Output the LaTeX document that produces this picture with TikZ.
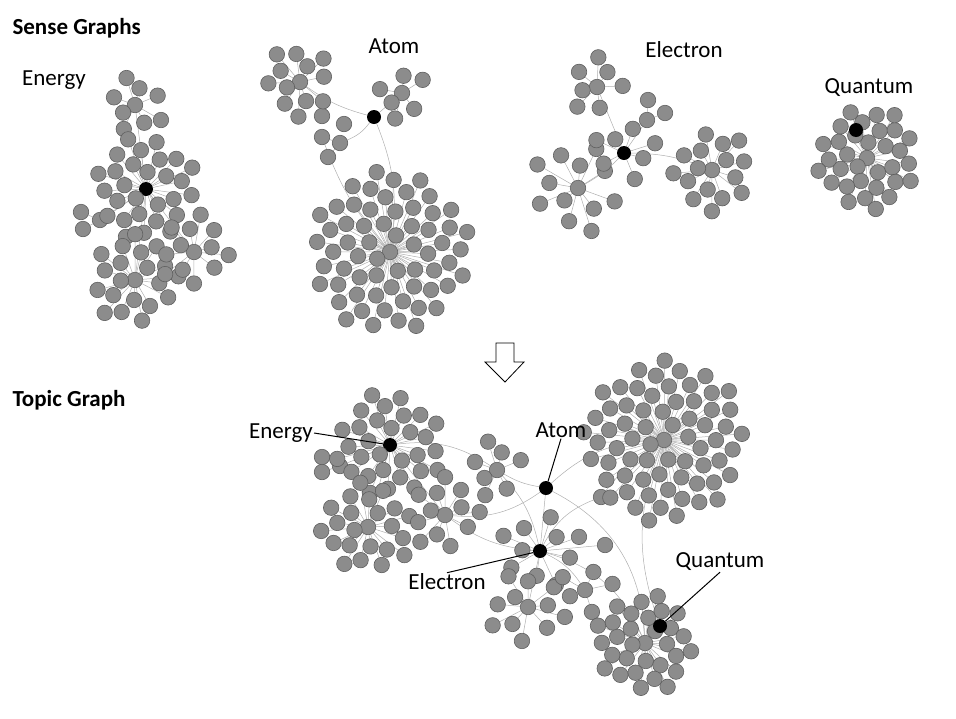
\documentclass[tikz,border=0pt]{standalone}
\usepackage{fontspec}
\setmainfont{Carlito}
\usepackage{tikz}
\usetikzlibrary{calc}
\pgfdeclarelayer{bg}
\pgfsetlayers{bg,main}
\definecolor{leafgray}{RGB}{140,140,140}
\definecolor{rimgray}{RGB}{95,95,95}
\definecolor{linkgray}{RGB}{175,175,175}
% ring of leaves round a named centre: name, count, spacing, turn
\newcommand{\petals}[4]{%
  \foreach \k in {1,...,#2}{%
    \pgfmathsetmacro{\rr}{#3*sqrt(\k+1)}%
    \pgfmathsetmacro{\aa}{#4+137.508*\k}%
    \node[leaf] (#1-\k) at ($(#1)+(\aa:\rr)$) {};
  }%
  \begin{pgfonlayer}{bg}
    \foreach \k in {1,...,#2}{\draw[link] (#1) -- (#1-\k);}
  \end{pgfonlayer}}

\begin{document}
\begin{tikzpicture}[x=1pt,y=-1pt]
  \tikzset{leaf/.style={circle,draw=rimgray,fill=leafgray,line width=0.6pt,inner sep=0pt,minimum size=15.5pt}}
  \tikzset{hub/.style={circle,fill=black,inner sep=0pt,minimum size=14pt}}
  \tikzset{link/.style={draw=linkgray,line width=0.5pt}}
  \tikzset{title/.style={anchor=west,font=\fontsize{23}{26}\selectfont\bfseries}}
  \tikzset{word/.style={font=\fontsize{23}{26}\selectfont,inner sep=1pt}}
  \tikzset{pointer/.style={draw=black,line width=1pt}}
  \useasboundingbox (0,0) rectangle (956,718);
  \node[title] (senseTitle) at (9,28) {Sense Graphs};
  \node[title] (topicTitle) at (9,400) {Topic Graph};
  \node[word] (wEnergy) at (54,80) {Energy};
  \node[word] (wAtom) at (394,46) {Atom};
  \node[word] (wElectron) at (684,50) {Electron};
  \node[word] (wQuantum) at (869,88) {Quantum};

  \node[hub] (eHub) at (146,189) {};
  \node[leaf] (eTop) at (135,105) {};
  \node[leaf] (eLow) at (135,280) {};
  \node[leaf] (eRight) at (194,252) {};
  \node[leaf] (eSide) at (100,220) {};
  \node[leaf] (eSide1) at (81,212) {};
  \node[leaf] (eSide2) at (83,229) {};
  \petals{eTop}{8}{10}{10}
  \petals{eHub}{28}{9.8}{0}
  \petals{eLow}{20}{10}{40}
  \petals{eRight}{12}{10.5}{70}
  \begin{pgfonlayer}{bg}
    \draw[link] (eHub) -- (eTop);
    \draw[link] (eHub) -- (eLow);
    \draw[link] (eHub) -- (eRight);
    \draw[link] (eHub) -- (eSide);
    \draw[link] (eSide) -- (eSide1);
    \draw[link] (eSide) -- (eSide2);
  \end{pgfonlayer}

  \node[hub] (aHub) at (374,117) {};
  \node[leaf] (aLeft) at (300,82) {};
  \node[leaf] (aRight) at (402,93) {};
  \node[leaf] (aBig) at (390,252) {};
  \node[leaf] (aMid) at (340,143) {};
  \node[leaf] (aMid1) at (322,137) {};
  \node[leaf] (aMid2) at (328,157) {};
  \node[leaf] (aMid3) at (344,124) {};
  \node[leaf] (aMid4) at (322,116) {};
  \petals{aLeft}{12}{10}{20}
  \petals{aRight}{6}{10}{0}
  \petals{aBig}{62}{10.2}{15}
  \begin{pgfonlayer}{bg}
    \draw[link] (aHub) to[bend left=10] (aLeft);
    \draw[link] (aHub) -- (aRight);
    \draw[link] (aHub) to[bend left=15] (aMid);
    \draw[link] (aMid) -- (aMid1);
    \draw[link] (aMid) -- (aMid2);
    \draw[link] (aMid1) to[bend right=10] (aBig);
    \draw[link] (aHub) to[bend left=15] (aBig);
  \end{pgfonlayer}

  \node[hub] (lHub) at (624,153) {};
  \node[leaf] (lTop) at (597,87) {};
  \node[leaf] (lRight) at (712,170) {};
  \node[leaf] (lLeft) at (578,188) {};
  \node[leaf] (lUp) at (647,120) {};
  \node[leaf] (lUp1) at (648,100) {};
  \node[leaf] (lUp2) at (665,113) {};
  \petals{lTop}{7}{10.5}{30}
  \petals{lRight}{16}{10}{50}
  \petals{lLeft}{12}{13}{0}
  \petals{lHub}{7}{11.5}{100}
  \begin{pgfonlayer}{bg}
    \draw[link] (lHub) -- (lTop);
    \draw[link] (lHub) to[bend left=10] (lRight);
    \draw[link] (lHub) to[bend left=8] (lLeft);
    \draw[link] (lHub) -- (lUp);
    \draw[link] (lUp) -- (lUp1);
    \draw[link] (lUp) -- (lUp2);
  \end{pgfonlayer}

  \node[leaf] (qMid) at (867,158) {};
  \petals{qMid}{32}{9}{0}
  \node[hub] (qHub) at (856,130) {};

  \draw[line width=0.8pt,fill=white] (496,343) -- (514,343) -- (514,362) -- (524,362)
    -- (505,382) -- (485,362) -- (496,362) -- cycle;

  \node[hub] (tEnergy) at (390,445) {};
  \node[leaf] (tLowLeft) at (368,527) {};
  \node[leaf] (tMidLeft) at (445,515) {};
  \node[leaf] (tSmall) at (497,470) {};
  \node[hub] (tAtom) at (546,488) {};
  \node[leaf] (tBig) at (664,440) {};
  \node[hub] (tElectron) at (540,551) {};
  \node[leaf] (tLow) at (528,607) {};
  \node[leaf] (tSide) at (340,466) {};
  \node[leaf] (tSide1) at (322,457) {};
  \node[leaf] (tSide2) at (322,472) {};
  \node[leaf] (tRight) at (585,590) {};
  \node[leaf] (tUp) at (605,545) {};
  \node[leaf] (tUp1) at (601,497) {};
  \node[leaf] (tQMid) at (645,643) {};
  \petals{tEnergy}{30}{9.8}{0}
  \petals{tLowLeft}{22}{9.8}{30}
  \petals{tMidLeft}{12}{10.5}{60}
  \petals{tSmall}{7}{10.5}{10}
  \petals{tBig}{66}{10}{25}
  \petals{tElectron}{10}{12.5}{45}
  \petals{tLow}{11}{11.5}{80}
  \petals{tRight}{5}{11.5}{20}
  \petals{tQMid}{30}{9}{35}
  \node[hub] (tQuantum) at (660,626) {};
  \begin{pgfonlayer}{bg}
    \draw[link] (tEnergy) -- (tSide);
    \draw[link] (tSide) -- (tSide1);
    \draw[link] (tSide) -- (tSide2);
    \draw[link] (tEnergy) -- (tLowLeft);
    \draw[link] (tEnergy) -- (tMidLeft);
    \draw[link] (tEnergy) to[bend left=20] (tSmall);
    \draw[link] (tSmall) to[bend right=10] (tAtom);
    \draw[link] (tMidLeft) to[bend right=20] (tAtom);
    \draw[link] (tMidLeft) to[bend right=15] (tElectron);
    \draw[link] (tAtom) to[bend left=20] (tBig);
    \draw[link] (tAtom) -- (tElectron);
    \draw[link] (tSmall) to[bend left=15] (tElectron);
    \draw[link] (tElectron) to[bend left=20] (tUp1);
    \draw[link] (tElectron) -- (tUp);
    \draw[link] (tUp1) to[bend left=10] (tBig);
    \draw[link] (tElectron) -- (tLow);
    \draw[link] (tElectron) to[bend left=15] (tRight);
    \draw[link] (tElectron) to[bend left=25] (tQMid);
    \draw[link] (tAtom) to[bend left=30] (tQMid);
    \draw[link] (tBig) to[bend right=20] (tQuantum);
  \end{pgfonlayer}

  \node[word] (tEnergyWord) at (281,433) {Energy};
  \node[word] (tAtomWord) at (561,430) {Atom};
  \node[word] (tElectronWord) at (447,582) {Electron};
  \node[word] (tQuantumWord) at (720,562) {Quantum};
  \draw[pointer] (tEnergyWord.east) -- (tEnergy);
  \draw[pointer] (tAtomWord.south) -- (tAtom);
  \draw[pointer] (tElectronWord.north) -- (tElectron);
  \draw[pointer] (tQuantumWord.south) -- (tQuantum);
\end{tikzpicture}
\end{document}
